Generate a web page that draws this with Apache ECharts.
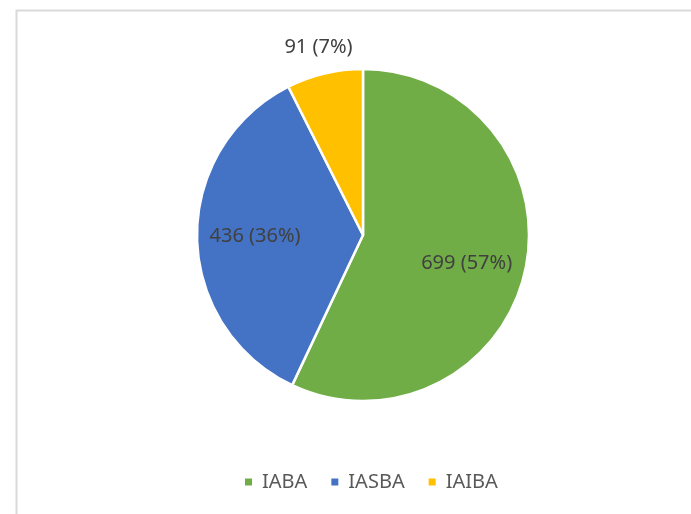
<!DOCTYPE html>
<html>
<head>
<meta charset="utf-8">
<script src="https://cdn.jsdelivr.net/npm/echarts@6/dist/echarts.min.js"></script>
<style>
  html, body { margin: 0; padding: 0; background: #fff; }
  #chart { width: 691px; height: 514px; }
</style>
</head>
<body>
<div id="chart"></div>
<script>
// data
var categories = ['IABA', 'IASBA', 'IAIBA'];
var values = [699, 436, 91];
var colors = ['#70AD47', '#4472C4', '#FFC000'];
// label distance from center, as a share of the radius (Excel "best fit")
var labelRadius = [0.64, 0.65, 1.16];

var chart = echarts.init(document.getElementById('chart'));

var pieCenter = [363, 235];
var pieRadius = 166;
var total = values.reduce(function (a, b) { return a + b; }, 0);

var option = {
    animation: false,
    backgroundColor: '#fff',
    color: colors,
    graphic: [{
        type: 'rect',
        shape: { x: 16.5, y: 10.5, width: 700, height: 600 },
        style: { fill: 'none', stroke: '#d9d9d9', lineWidth: 2 },
        silent: true
    }],
    legend: {
        data: categories,
        left: 238,
        top: 466,
        icon: 'rect',
        itemWidth: 9,
        itemHeight: 9,
        itemGap: 22,
        textStyle: {
            fontFamily: 'Noto Sans',
            fontSize: 20,
            color: '#595959',
            lineHeight: 22,
            padding: [0, 0, 0, 4]
        }
    },
    series: [{
        type: 'pie',
        center: pieCenter,
        radius: pieRadius,
        startAngle: 90,
        clockwise: true,
        itemStyle: { borderColor: '#fff', borderWidth: 2.5 },
        label: {
            show: true,
            position: 'inside',
            fontFamily: 'Noto Sans',
            fontSize: 20,
            color: '#404040',
            formatter: function (p) {
                return p.value + ' (' + Math.round(p.value / total * 100) + '%)';
            }
        },
        labelLine: { show: false },
        labelLayout: function (params) {
            var r = params.labelRect;
            var lx = r.x + r.width / 2 - pieCenter[0];
            var ly = r.y + r.height / 2 - pieCenter[1];
            var d = Math.sqrt(lx * lx + ly * ly) || 1;
            var k = labelRadius[params.dataIndex] * pieRadius / d;
            return {
                x: pieCenter[0] + lx * k,
                y: pieCenter[1] + ly * k + (params.dataIndex === 0 ? 5 : 0)
            };
        },
        data: categories.map(function (c, i) {
            return { name: c, value: values[i] };
        })
    }]
};

chart.setOption(option);
</script>
</body>
</html>
